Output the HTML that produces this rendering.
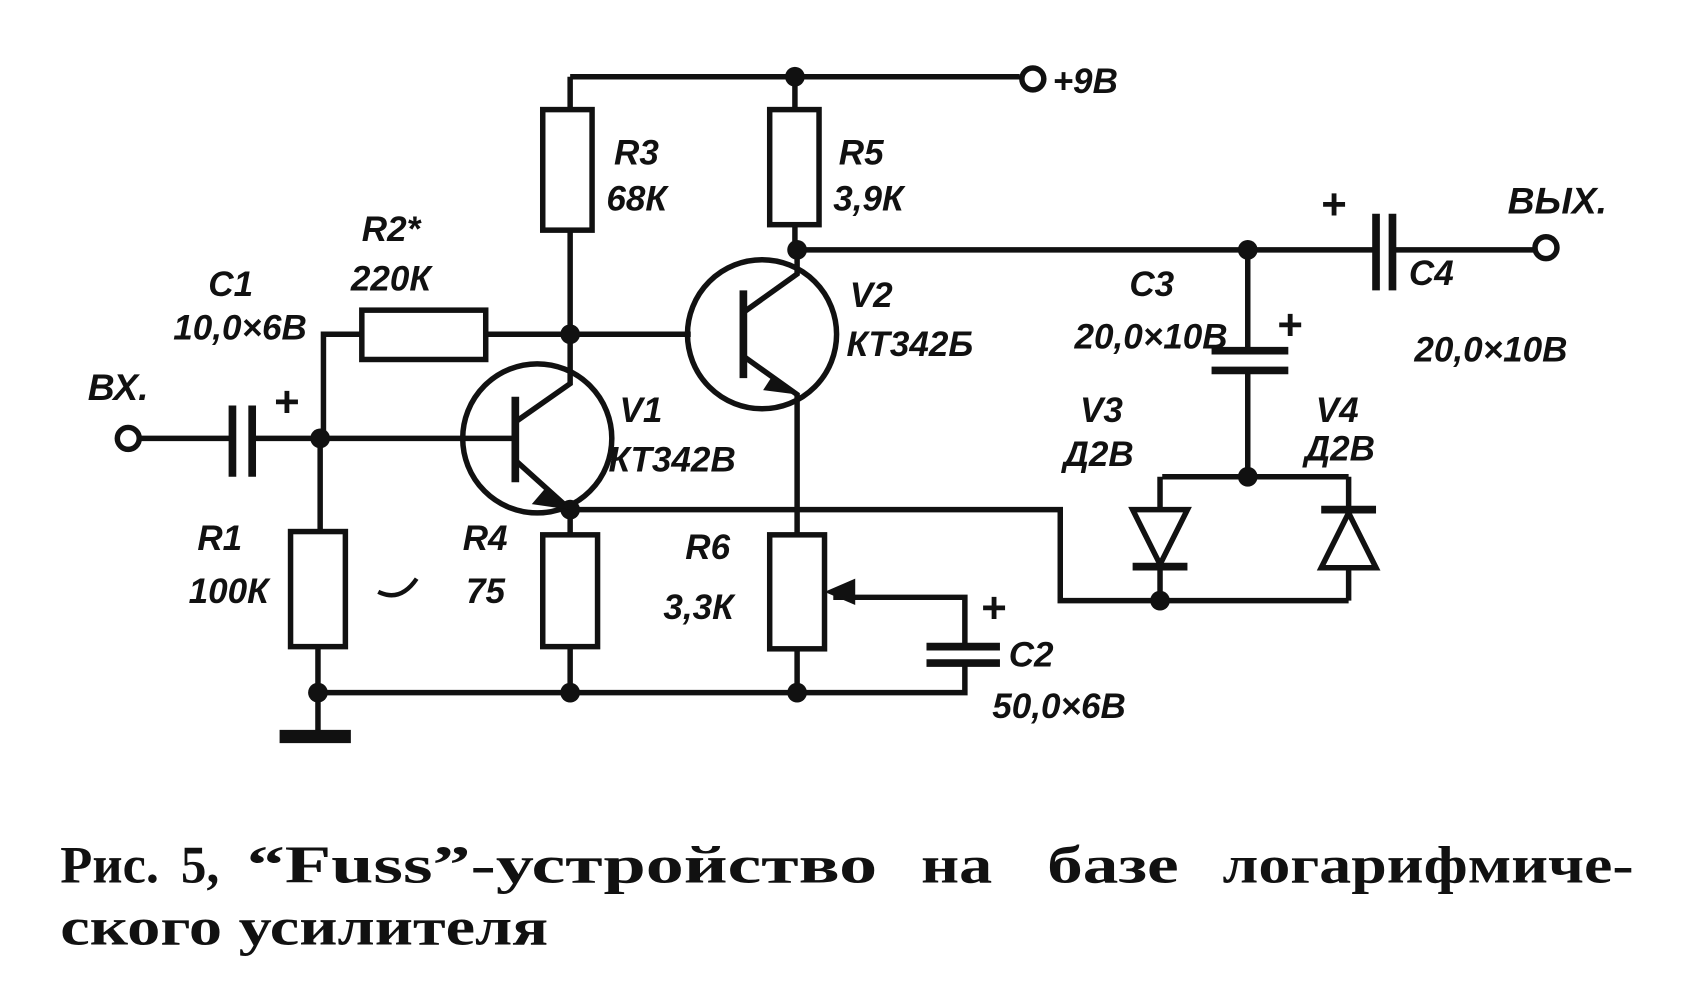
<!DOCTYPE html>
<html><head><meta charset="utf-8"><style>
html,body{margin:0;padding:0;background:#fff;}
svg{display:block;}
.l{font-family:"Liberation Sans","DejaVu Sans",sans-serif;font-weight:bold;font-style:italic;font-size:32px;fill:#111;}
.c{font-family:"Liberation Serif","DejaVu Serif",serif;font-size:48px;font-weight:bold;fill:#111;}
</style></head><body>
<svg width="1694" height="982" viewBox="0 0 1545 896" preserveAspectRatio="none" xmlns="http://www.w3.org/2000/svg">
<g stroke="#111" stroke-width="5" fill="none">
<path d="M520 70H930"/>
<circle cx="942" cy="72" r="10"/>
<path d="M520 70V100M520 210V305M725 70V100M725 205V228"/>
<rect x="495" y="100" width="45" height="110"/>
<rect x="702" y="100" width="45" height="105"/>
<path d="M727 228H1255M1270 228H1400"/>
<path d="M1255 195V265M1270 195V265" stroke-width="7"/>
<circle cx="1410" cy="226" r="10"/>
<path d="M295 400V305H330M443 305H630"/>
<rect x="330" y="283" width="113" height="45"/>
<circle cx="117" cy="400" r="10"/>
<path d="M127 400H212M230 400H470"/>
<path d="M212 370V435M230 370V435" stroke-width="7"/>
<path d="M292 400V485M290 590V670"/>
<rect x="265" y="485" width="50" height="105"/>
<path d="M255 672H320" stroke-width="12"/>
<circle cx="490" cy="400" r="68"/>
<path d="M470 362V440" stroke-width="7"/>
<path d="M470 385L520 350V305M470 420L520 465"/>
<path d="M520 465H967V548H1230"/>
<path d="M520 465V488M520 590V632"/>
<rect x="495" y="488" width="50" height="102"/>
<path d="M290 632H880V605M880 590V545H760"/>
<path d="M845 605H912M845 590H912" stroke-width="7"/>
<circle cx="695" cy="305" r="68"/>
<path d="M678 265V345" stroke-width="7"/>
<path d="M678 285L727 250V228M678 325L727 360V488M727 592V632"/>
<rect x="702" y="488" width="50" height="104"/>
<path d="M1138 228V320M1138 338V435M1060 435H1230"/>
<path d="M1105 320H1175M1105 338H1175" stroke-width="7"/>
<path d="M1058 435V465M1058 515V548M1230 435V462M1230 518V548"/>
<path d="M1033 465H1083L1058 515Z"/>
<path d="M1033 517H1083" stroke-width="7"/>
<path d="M1205 518H1255L1230 468Z"/>
<path d="M1205 465H1255" stroke-width="7"/>
<path d="M345 540Q365 550 380 528" stroke-width="4"/>
</g>
<g fill="#111">
<circle cx="725" cy="70" r="9"/><circle cx="520" cy="305" r="9"/><circle cx="727" cy="228" r="9"/>
<circle cx="1138" cy="228" r="9"/><circle cx="292" cy="400" r="9"/><circle cx="520" cy="465" r="9"/>
<circle cx="290" cy="632" r="9"/><circle cx="520" cy="632" r="9"/><circle cx="727" cy="632" r="9"/>
<circle cx="1138" cy="435" r="9"/><circle cx="1058" cy="548" r="9"/>
<path d="M520 465L497 446L485 460Z"/><path d="M727 360L705 342L696 356Z"/>
<path d="M752 540L780 528V552Z"/>
</g>
<g class="l">
<text x="960" y="85">+9В</text>
<text x="560" y="150">R3</text><text x="553" y="192">68К</text>
<text x="765" y="150">R5</text><text x="760" y="192">3,9К</text>
<text x="330" y="220">R2*</text><text x="320" y="265">220К</text>
<text x="190" y="270">С1</text><text x="158" y="310">10,0×6В</text>
<text x="80" y="365" font-size="34">ВХ.</text>
<text x="250" y="380" font-style="normal" font-size="40">+</text>
<text x="565" y="385">V1</text><text x="555" y="430">КТ342В</text>
<text x="775" y="280">V2</text><text x="772" y="325">КТ342Б</text>
<text x="180" y="502">R1</text><text x="172" y="550">100К</text>
<text x="422" y="502">R4</text><text x="425" y="550">75</text>
<text x="625" y="510">R6</text><text x="605" y="565">3,3К</text>
<text x="895" y="568" font-style="normal" font-size="40">+</text>
<text x="920" y="608">С2</text><text x="905" y="655">50,0×6В</text>
<text x="1030" y="270">С3</text><text x="980" y="318">20,0×10В</text>
<text x="1165" y="310" font-style="normal" font-size="40">+</text>
<text x="1205" y="200" font-style="normal" font-size="40">+</text>
<text x="1285" y="260">С4</text><text x="1290" y="330">20,0×10В</text>
<text x="1375" y="195" font-size="34">ВЫХ.</text>
<text x="985" y="385">V3</text><text x="970" y="425">Д2В</text>
<text x="1200" y="385">V4</text><text x="1190" y="420">Д2В</text>
</g>
<g class="c">
<text x="55" y="805" textLength="90" lengthAdjust="spacingAndGlyphs">Рис.</text>
<text x="165" y="805" textLength="35" lengthAdjust="spacingAndGlyphs">5,</text>
<text x="225" y="805" textLength="575" lengthAdjust="spacingAndGlyphs">“Fuss”-устройство</text>
<text x="840" y="805" textLength="65" lengthAdjust="spacingAndGlyphs">на</text>
<text x="955" y="805" textLength="120" lengthAdjust="spacingAndGlyphs">базе</text>
<text x="1115" y="805" textLength="375" lengthAdjust="spacingAndGlyphs">логарифмиче-</text>
<text x="55" y="862" textLength="445" lengthAdjust="spacingAndGlyphs">ского усилителя</text>
</g>
</svg>
</body></html>
